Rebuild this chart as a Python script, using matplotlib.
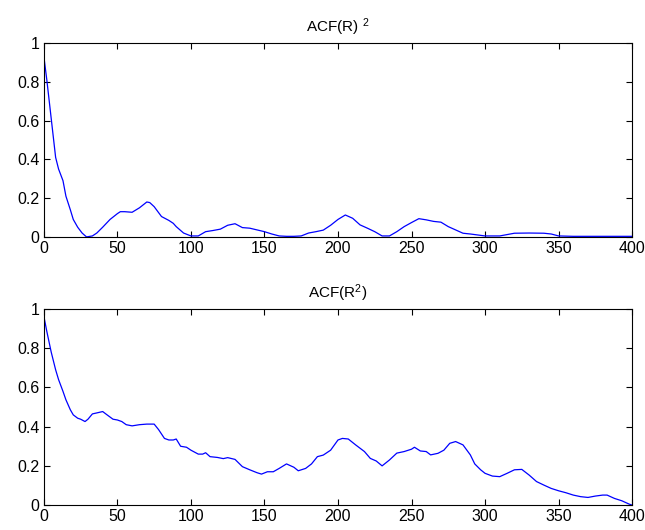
import numpy as np
import matplotlib
matplotlib.use("Agg")
import matplotlib.pyplot as plt
from matplotlib.ticker import FormatStrFormatter

plt.rcParams['font.family'] = ['Liberation Sans', 'DejaVu Sans']
plt.rcParams['mathtext.fontset'] = 'custom'
plt.rcParams['mathtext.rm'] = 'Liberation Sans'
plt.rcParams['mathtext.default'] = 'regular'

# ACF(R)^2
lag_top = [0, 2, 5, 8, 10, 13, 15, 18, 20, 23, 26, 29, 33, 36, 40, 45, 50, 52, 55, 60,
           65, 70, 72, 75, 80, 85, 88, 90, 95, 100, 105, 110, 115, 120, 125, 130, 135,
           140, 145, 150, 155, 160, 165, 170, 175, 180, 185, 190, 195, 200, 205, 210,
           215, 220, 225, 230, 235, 240, 245, 250, 255, 260, 265, 270, 275, 280, 285,
           290, 295, 300, 310, 320, 330, 340, 345, 350, 360, 380, 400]
acf_top = [0.93, 0.81, 0.61, 0.41, 0.35, 0.29, 0.21, 0.14, 0.09, 0.05, 0.02, 0.0, 0.005,
           0.02, 0.05, 0.09, 0.12, 0.13, 0.13, 0.127, 0.15, 0.18, 0.177, 0.156, 0.105,
           0.085, 0.07, 0.053, 0.02, 0.005, 0.005, 0.027, 0.033, 0.04, 0.06, 0.068,
           0.048, 0.045, 0.036, 0.027, 0.015, 0.005, 0.003, 0.003, 0.005, 0.02, 0.027,
           0.035, 0.06, 0.09, 0.113, 0.096, 0.062, 0.045, 0.027, 0.005, 0.005, 0.027,
           0.053, 0.074, 0.094, 0.088, 0.08, 0.076, 0.053, 0.036, 0.019, 0.015, 0.01,
           0.005, 0.005, 0.019, 0.02, 0.019, 0.015, 0.005, 0.003, 0.003, 0.003]

# ACF(R^2)
lag_bot = [0, 2, 5, 8, 10, 13, 15, 18, 20, 23, 25, 28, 30, 33, 36, 40, 43, 47, 50, 53,
           56, 60, 65, 70, 75, 78, 82, 85, 88, 90, 93, 97, 100, 105, 108, 110, 113, 118,
           122, 125, 130, 135, 140, 145, 148, 152, 156, 160, 165, 170, 173, 178, 182,
           186, 190, 195, 200, 203, 207, 212, 218, 222, 226, 230, 235, 240, 245, 250,
           252, 256, 260, 263, 268, 272, 276, 280, 285, 290, 293, 297, 300, 305, 310,
           315, 320, 325, 330, 335, 340, 345, 350, 355, 360, 365, 370, 375, 380, 383,
           388, 393, 398, 400]
acf_bot = [0.963, 0.886, 0.78, 0.69, 0.64, 0.58, 0.537, 0.486, 0.46, 0.443, 0.438, 0.426,
           0.438, 0.465, 0.47, 0.477, 0.46, 0.438, 0.434, 0.426, 0.41, 0.404, 0.41,
           0.413, 0.413, 0.385, 0.34, 0.332, 0.332, 0.337, 0.30, 0.295, 0.28, 0.26,
           0.26, 0.267, 0.247, 0.243, 0.237, 0.242, 0.233, 0.196, 0.18, 0.165, 0.158,
           0.17, 0.17, 0.187, 0.21, 0.193, 0.175, 0.187, 0.21, 0.247, 0.255, 0.28,
           0.332, 0.34, 0.337, 0.307, 0.273, 0.238, 0.225, 0.20, 0.23, 0.265, 0.273,
           0.285, 0.295, 0.276, 0.273, 0.256, 0.264, 0.28, 0.315, 0.324, 0.307, 0.256,
           0.21, 0.18, 0.162, 0.148, 0.145, 0.162, 0.18, 0.182, 0.153, 0.12, 0.102,
           0.085, 0.073, 0.063, 0.051, 0.043, 0.039, 0.046, 0.051, 0.051, 0.034, 0.022,
           0.005, 0.0]

fig = plt.figure(figsize=(6.45, 5.30), dpi=100)
ax1 = fig.add_axes([0.068, 0.553, 0.912, 0.366])
ax2 = fig.add_axes([0.068, 0.047, 0.912, 0.370])

for ax, x, y, title in [(ax1, lag_top, acf_top, 'ACF(R) $^{2}$'),
                        (ax2, lag_bot, acf_bot, 'ACF(R$^{2}$)')]:
    ax.plot(x, y, color='#0000ff', linewidth=0.9)
    ax.set_xlim(0, 400)
    ax.set_ylim(0, 1)
    ax.set_xticks(np.arange(0, 401, 50))
    ax.set_yticks(np.arange(0, 1.01, 0.2))
    ax.yaxis.set_major_formatter(FormatStrFormatter('%g'))
    ax.tick_params(direction='in', top=True, right=True, length=4, width=0.8,
                   labelsize=11.5, pad=3)
    for s in ax.spines.values():
        s.set_linewidth(0.8)
    ax.set_title(title, fontsize=11, pad=8)

fig.savefig('out.png', dpi=100)
